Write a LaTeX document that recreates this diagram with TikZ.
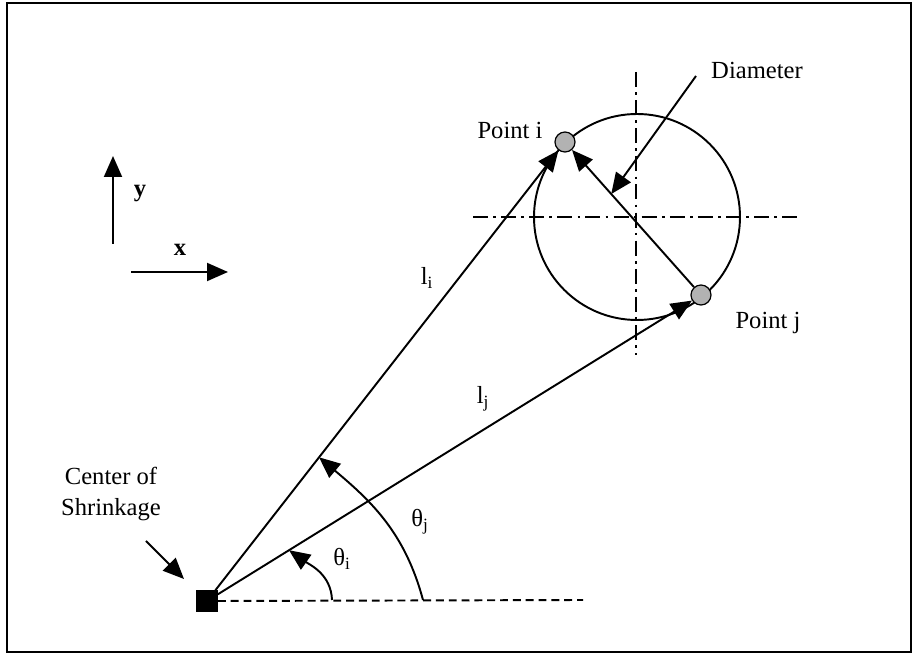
\documentclass[tikz,border=0pt]{standalone}
\usepackage{fontspec}
\setmainfont{Liberation Serif}
\usepackage{tikz}
\usetikzlibrary{arrows.meta,calc}
\tikzset{
	ln/.style={line width=1.1pt},
	arr/.style={ln, -{Triangle[length=4.2mm, width=3.6mm]}},
	dashdot/.style={line width=0.9pt, dash pattern=on 8.5pt off 3pt on 1.5pt off 3pt},
	pt/.style={draw, circle, line width=0.7pt, fill=gray!60, inner sep=0pt, minimum size=0.4cm},
	sq/.style={draw, fill=black, inner sep=0pt, minimum size=0.42cm},
	lbl/.style={font=\fontsize{14}{18}\selectfont, inner sep=1pt, align=center},
}
\begin{document}
\begin{tikzpicture}[x=1cm, y=1cm]
	\useasboundingbox (0,0) rectangle (18.26,13.10);
	\draw[line width=1.3pt] (0.14,0.06) rectangle (18.22,13.04);
	\node[draw, circle, ln, minimum size=4.12cm, inner sep=0pt] at (12.74,8.76) (circ) {};
	\draw[dashdot] (12.72,11.66) -- (12.72,6.00);
	\draw[dashdot] (9.46,8.76) -- (15.94,8.76);
	\node[pt] at (11.30,10.26) (pti) {};
	\node[pt] at (14.02,7.20) (ptj) {};
	\node[sq] at (4.14,1.08) (ctr) {};
	\coordinate (base) at (11.66,1.10);
	\draw[ln, dash pattern=on 4.5pt off 2.8pt] (ctr.east) -- (base);
	\draw[arr] (ctr) -- (pti);
	\draw[arr] (ctr) -- (ptj);
	\draw[arr] (ptj) -- (pti);
	\node[lbl] at (10.20,10.50) (lpi) {Point i};
	\node[lbl] at (15.36,6.64) (lpj) {Point j};
	\node[lbl] at (15.14,11.70) (ldia) {Diameter};
	\coordinate (dtip) at ($(ptj)!0.66!(pti)$);
	\draw[arr] (13.92,11.58) -- (dtip);
	\node[lbl] at (8.54,7.54) (lli) {l\textsubscript{i}};
	\node[lbl] at (9.66,5.12) (llj) {l\textsubscript{j}};
	\coordinate (ti0) at (6.64,1.10);
	\coordinate (tj0) at (8.46,1.10);
	\coordinate (ti1) at ($(ctr)!0.166!(ptj)$);
	\coordinate (tj1) at ($(ctr)!0.313!(pti)$);
	\draw[arr] (ti0) to[out=92, in=-35] (ti1);
	\draw[arr] (tj0) to[out=105, in=-40] (tj1);
	\node[lbl] at (6.84,1.92) (lti) {θ\textsubscript{i}};
	\node[lbl] at (8.40,2.66) (ltj) {θ\textsubscript{j}};
	\node[lbl] at (2.22,3.22) (lctr) {Center of\\Shrinkage};
	\draw[arr] (2.92,2.28) -- (3.68,1.52);
	\draw[arr] (2.26,8.22) -- (2.26,9.98);
	\node[lbl] at (2.80,9.22) (ly) {\textbf{y}};
	\draw[arr] (2.62,7.66) -- (4.56,7.66);
	\node[lbl] at (3.60,8.10) (lx) {\textbf{x}};
\end{tikzpicture}
\end{document}
